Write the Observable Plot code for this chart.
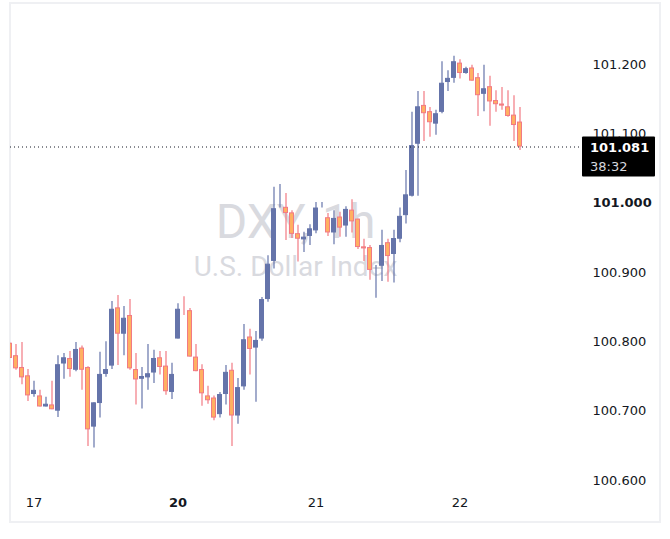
<!DOCTYPE html>
<html><head><meta charset="utf-8">
<script src="https://cdn.jsdelivr.net/npm/d3@7"></script>
<script src="https://cdn.jsdelivr.net/npm/@observablehq/plot@0.6"></script>
<style>body{margin:0;background:#fff;}</style>
</head><body><div id="chart"></div>
<script>
const opens = [100.798,100.780,100.763,100.751,100.724,100.722,100.706,100.709,100.700,100.768,
100.776,100.759,100.791,100.763,100.677,100.711,100.753,100.765,100.849,100.811,
100.838,100.760,100.746,100.748,100.755,100.777,100.765,100.727,100.804,100.842,
100.845,100.778,100.760,100.722,100.719,100.695,100.724,100.759,100.693,100.735,
100.807,100.791,100.804,100.861,100.916,100.993,100.994,100.986,100.956,100.947,
100.952,100.960,100.996,100.979,100.957,100.980,100.967,100.990,100.977,100.937,
100.936,100.909,100.909,100.943,100.926,100.948,100.982,101.010,101.085,101.141,
101.132,101.114,101.131,101.174,101.180,101.202,101.187,101.195,101.181,101.157,
101.168,101.148,101.143,101.139,101.127,101.117];
const closes = [100.776,100.761,100.748,100.722,100.730,100.706,100.710,100.702,100.767,100.777,
100.760,100.789,100.759,100.673,100.712,100.753,100.760,100.847,100.811,100.834,
100.761,100.745,100.750,100.754,100.776,100.763,100.728,100.753,100.847,100.841,
100.778,100.757,100.725,100.715,100.690,100.724,100.756,100.693,100.734,100.803,
100.789,100.802,100.861,100.912,100.992,100.994,100.985,100.955,100.948,100.951,
100.963,100.993,100.997,100.957,100.978,100.964,100.991,100.973,100.936,100.934,
100.903,100.910,100.939,100.923,100.949,100.981,101.012,101.083,101.139,101.129,
101.116,101.129,101.173,101.180,101.204,101.187,101.194,101.176,101.155,101.165,
101.146,101.142,101.140,101.125,101.112,101.081];
const highs = [100.798,100.796,100.799,100.760,100.743,100.730,100.720,100.743,100.780,100.783,
100.786,100.799,100.794,100.764,100.712,100.785,100.800,100.858,100.867,100.851,
100.861,100.783,100.763,100.796,100.788,100.786,100.786,100.769,100.855,100.865,
100.848,100.796,100.767,100.736,100.722,100.727,100.766,100.769,100.747,100.825,
100.818,100.815,100.864,100.924,101.023,101.027,101.014,100.989,100.968,100.958,
100.969,101.001,101.001,100.985,100.989,100.987,100.995,101.005,100.977,100.948,
100.939,100.910,100.961,100.948,100.961,100.993,101.047,101.131,101.161,101.161,
101.138,101.134,101.204,101.191,101.212,101.207,101.196,101.199,101.187,101.199,
101.183,101.162,101.167,101.162,101.155,101.138];
const lows = [100.776,100.759,100.738,100.714,100.720,100.706,100.706,100.702,100.691,100.746,
100.749,100.757,100.730,100.649,100.647,100.690,100.749,100.760,100.766,100.780,
100.759,100.709,100.703,100.730,100.740,100.752,100.723,100.717,100.804,100.838,
100.778,100.757,100.707,100.710,100.686,100.690,100.709,100.649,100.681,100.730,
100.752,100.713,100.801,100.857,100.905,100.993,100.946,100.949,100.915,100.929,
100.939,100.956,100.993,100.952,100.940,100.951,100.951,100.957,100.933,100.916,
100.889,100.863,100.887,100.886,100.885,100.943,100.970,101.009,101.010,101.089,
101.095,101.098,101.129,101.161,101.173,101.179,101.186,101.176,101.125,101.132,
101.111,101.131,101.134,101.124,101.089,101.076];
const dayLabels = ["17","20","21","22"];
const dayIndex = [4,28,51,75];
const dayBold = [false,true,false,false];
const priceTicks = [100.6,100.7,100.8,100.9,101.0,101.1,101.2];
const boldTick = 101.0;
const lastPrice = 101.081;
const countdown = "38:32";
const title = "DXY, 1h";
const subtitle = "U.S. Dollar Index";

const candles = opens.map((o,i)=>({i, open:o, close:closes[i], high:highs[i], low:lows[i], up: closes[i] >= o}));
const upC = candles.filter(d=>d.up), dnC = candles.filter(d=>!d.up);
const days = dayLabels.map((l,k)=>({i: dayIndex[k], label: l, bold: dayBold[k]}));

const UP = "#6574aa", DN_FILL = "#ffb062", DN_LINE = "#f27a83", TXT = "#131722";
const AX = {fontFamily: "DejaVu Sans", fontSize: 13, fill: TXT};

const chart = Plot.plot({
  width: 670, height: 539,
  marginLeft: 10, marginRight: 90, marginTop: 5, marginBottom: 44,
  style: {background: "#fff", fontFamily: "DejaVu Sans"},
  x: {type: "band", domain: d3.range(opens.length), range: [6, 522], paddingInner: 1/6, paddingOuter: 1/12, axis: null},
  y: {domain: [100.6, 101.2], range: [480, 64], axis: null},
  marks: [
    Plot.text([title], {text: d=>d, frameAnchor: "middle", dy: -28, fontSize: 48, fontFamily: "Roboto", fill: "#d9dadf"}),
    Plot.text([subtitle], {text: d=>d, frameAnchor: "middle", dy: 17, fontSize: 28, fontFamily: "Roboto", fill: "#d9dadf"}),
    Plot.ruleX(upC, {x: "i", y1: "low", y2: "high", stroke: UP, strokeWidth: 1.2, clip: true}),
    Plot.ruleX(dnC, {x: "i", y1: "low", y2: "high", stroke: DN_LINE, strokeWidth: 1.2, clip: true}),
    Plot.barY(upC, {x: "i", y1: "open", y2: "close", fill: UP, stroke: UP, strokeWidth: 1, inset: 0.5, clip: true}),
    Plot.barY(dnC, {x: "i", y1: "open", y2: "close", fill: DN_FILL, stroke: DN_LINE, strokeWidth: 1, inset: 0.5, clip: true}),
    Plot.ruleY([lastPrice], {stroke: TXT, strokeWidth: 1, strokeDasharray: "1,3"}),
    Plot.text(priceTicks.filter(v=>v!==boldTick), {y: d=>d, text: d=>d.toFixed(3), frameAnchor: "right", textAnchor: "start", dx: 12, ...AX}),
    Plot.text(priceTicks.filter(v=>v===boldTick), {y: d=>d, text: d=>d.toFixed(3), frameAnchor: "right", textAnchor: "start", dx: 12, fontWeight: "bold", ...AX}),
    Plot.text(days.filter(d=>!d.bold), {x: "i", text: "label", frameAnchor: "bottom", dy: 11, ...AX}),
    Plot.text(days.filter(d=>d.bold), {x: "i", text: "label", frameAnchor: "bottom", dy: 11, fontWeight: "bold", ...AX})
  ]
});

// decorations: outer border and last-price label
const svg = d3.select(chart);
const yS = chart.scale("y");
const yp = yS.apply(lastPrice);
svg.insert("rect", ":first-child").attr("x", 10).attr("y", 3).attr("width", 650).attr("height", 519)
  .attr("fill", "none").attr("stroke", "#eff0f3").attr("stroke-width", 2);
const g = svg.append("g").attr("text-anchor", "start");
g.append("rect").attr("x", 582).attr("y", yp - 10).attr("width", 73).attr("height", 40).attr("rx", 1).attr("fill", "#000");
g.append("text").attr("x", 590).attr("y", yp + 5).attr("fill", "#fff").attr("font-size", 13).attr("font-weight", "bold").attr("font-family", "DejaVu Sans").text(lastPrice.toFixed(3));
g.append("text").attr("x", 590).attr("y", yp + 24).attr("fill", "#d6d8de").attr("font-size", 13).attr("font-family", "DejaVu Sans").text(countdown);
document.getElementById("chart").append(chart);
</script>
</body></html>
